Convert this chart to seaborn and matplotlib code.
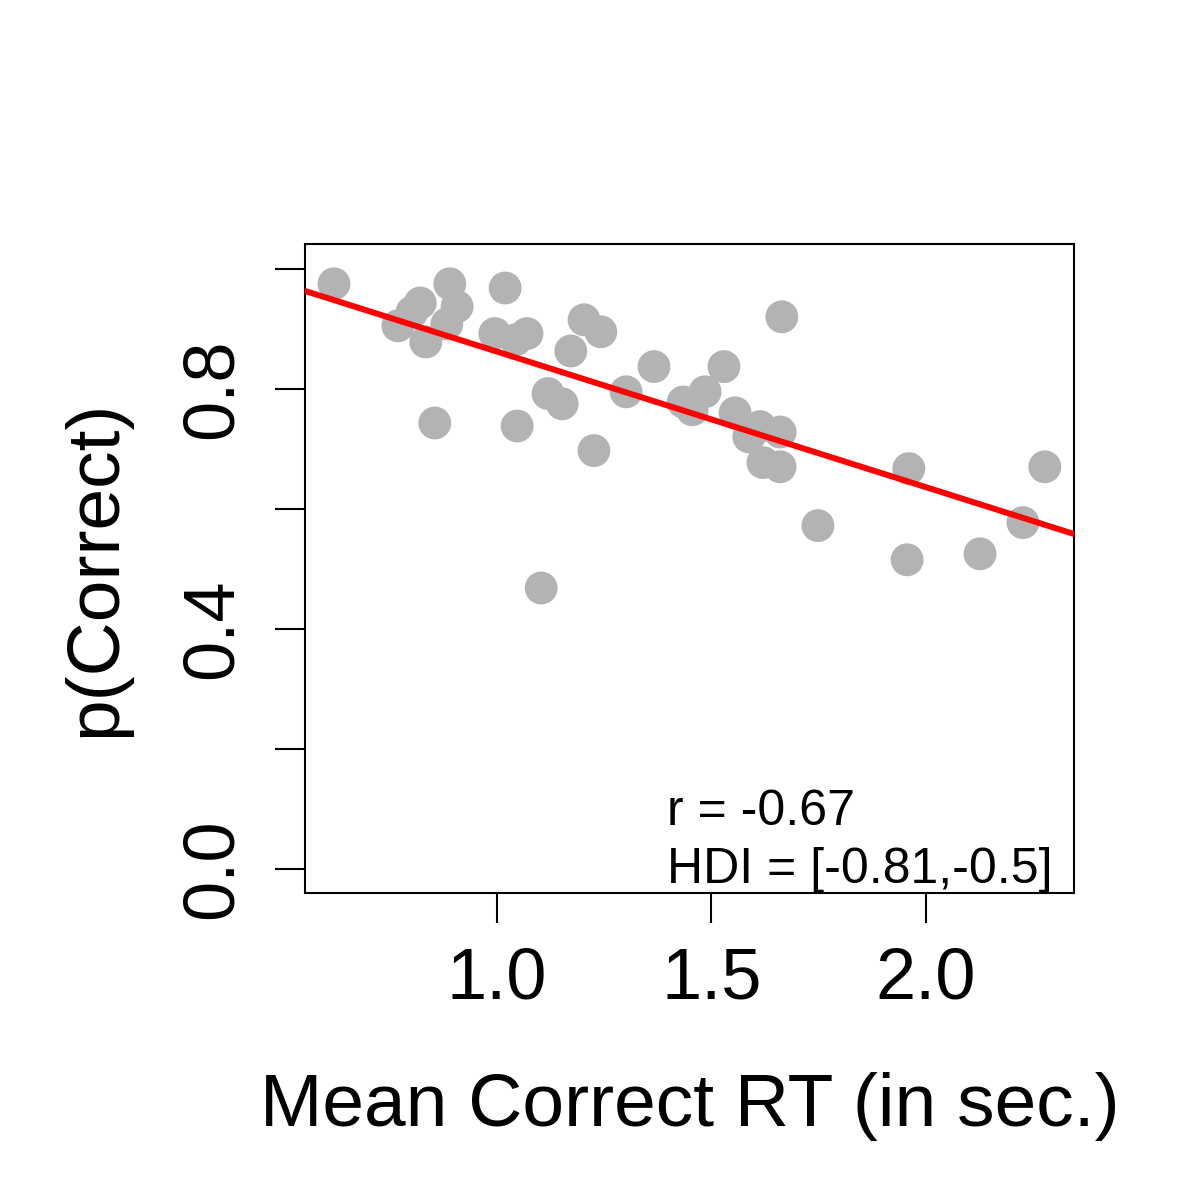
import numpy as np
import pandas as pd
import seaborn as sns
import matplotlib.pyplot as plt

## Data ##
mean_rt = [0.620, 0.769, 0.802, 0.821, 0.834, 0.883, 0.890, 0.907, 0.855,
           0.995, 1.019, 1.044, 1.070, 1.047, 1.103, 1.119, 1.152, 1.172,
           1.203, 1.242, 1.226, 1.301, 1.366, 1.434, 1.455, 1.485, 1.529,
           1.555, 1.587, 1.613, 1.660, 1.620, 1.660, 1.664, 1.748, 1.960,
           1.956, 2.126, 2.226, 2.277]
p_correct = [0.975, 0.905, 0.928, 0.943, 0.878, 0.908, 0.975, 0.937, 0.743,
             0.892, 0.968, 0.882, 0.892, 0.738, 0.468, 0.792, 0.775, 0.863,
             0.915, 0.895, 0.697, 0.795, 0.837, 0.778, 0.765, 0.795, 0.837,
             0.760, 0.720, 0.737, 0.728, 0.677, 0.670, 0.920, 0.572, 0.667,
             0.515, 0.525, 0.577, 0.670]
fit_intercept = 1.088
fit_slope = -0.226
r_text = "r = -0.67"
hdi_text = "HDI = [-0.81,-0.5]"
x_ticks = [1.0, 1.5, 2.0]
y_ticks = [0.0, 0.2, 0.4, 0.6, 0.8, 1.0]
y_ticklabels = ["0.0", "", "0.4", "", "0.8", ""]

df = pd.DataFrame({"rt": mean_rt, "pc": p_correct})

sns.set_theme(style="ticks")
plt.rcParams['font.family'] = ['Liberation Sans', 'DejaVu Sans']
plt.rcParams['text.color'] = 'black'
plt.rcParams['axes.labelcolor'] = 'black'
plt.rcParams['xtick.color'] = 'black'
plt.rcParams['ytick.color'] = 'black'

fig = plt.figure(figsize=(12, 12), dpi=100)
ax = fig.add_axes([0.254, 0.256, 0.641, 0.541])

sns.scatterplot(data=df, x="rt", y="pc", ax=ax, s=560, color="#B3B3B3",
                edgecolor="none", linewidth=0, zorder=2)
ax.axline((0, fit_intercept), slope=fit_slope, color="red", lw=4.3, zorder=3)

ax.set_xlim(0.552, 2.345)
ax.set_ylim(-0.04, 1.042)
ax.set_xticks(x_ticks)
ax.set_xticklabels(["1.0", "1.5", "2.0"])
ax.set_yticks(y_ticks)
ax.set_yticklabels(y_ticklabels, rotation=90, va="center")

ax.tick_params(axis="both", direction="out", length=21.6, width=1.5,
               labelsize=52, color="black", labelcolor="black")
ax.tick_params(axis="x", pad=17)
ax.tick_params(axis="y", pad=20)
for s in ax.spines.values():
    s.set_linewidth(1.5)
    s.set_color("black")

ax.set_xlabel("Mean Correct RT (in sec.)", fontsize=54, labelpad=42)
ax.set_ylabel("p(Correct)", fontsize=54, labelpad=36)

ax.text(0.471, 0.105, r_text, transform=ax.transAxes, fontsize=36,
        ha="left", va="baseline")
ax.text(0.471, 0.0155, hdi_text, transform=ax.transAxes, fontsize=36,
        ha="left", va="baseline")

plt.savefig("out.png", dpi=100)
